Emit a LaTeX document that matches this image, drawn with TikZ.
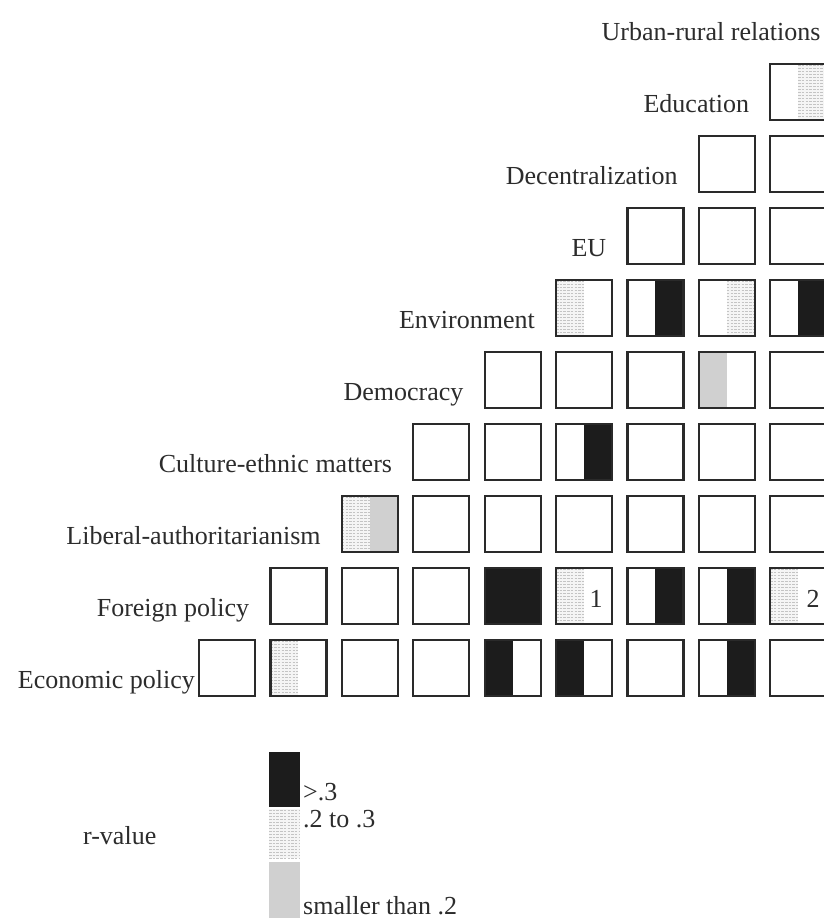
\documentclass[tikz,border=0pt]{standalone}
\usepackage{fontspec}
\setmainfont{Liberation Serif}

\definecolor{ink}{HTML}{2C2C2C}
\definecolor{edge}{HTML}{2A2A2A}
\definecolor{dark}{HTML}{1C1C1C}
\definecolor{pale}{HTML}{D0D0D0}
\definecolor{dotbg}{HTML}{F5F5F5}
\definecolor{dotline}{HTML}{C4C4C4}

% half-cell bands, drawn inside a node through its path picture
\newcommand\bandL[1]{\fill[#1] (path picture bounding box.north west) rectangle (path picture bounding box.south);}
\newcommand\bandR[1]{\fill[#1] (path picture bounding box.north) rectangle (path picture bounding box.south east);}
\newcommand\bandAll[1]{\fill[#1] (path picture bounding box.north west) rectangle (path picture bounding box.south east);}
% rows of fine dashes between two top anchors
\newcommand\dashrows[2]{%
  \foreach \k in {0,...,20}{%
    \draw[dotline, line width=0.9pt, dash pattern=on 2.5pt off 1.2pt]
      ([yshift=-\k*3pt-1.5pt]path picture bounding box.#1) --
      ([yshift=-\k*3pt-1.5pt]path picture bounding box.#2);}}
\newcommand\dotL{\bandL{dotbg}\dashrows{north west}{north}}
\newcommand\dotR{\bandR{dotbg}\dashrows{north}{north east}}
\newcommand\dotAll{\bandAll{dotbg}\dashrows{north west}{north east}}

\tikzset{
  txt/.style={inner sep=0pt, text=ink, font=\fontsize{26}{30}\selectfont},
  cell/.style={draw=edge, line width=2.2pt, minimum width=56pt,
    minimum height=56pt, inner sep=0pt, outer sep=0pt},
  bands/.style={path picture={#1}},
  legblk/.style={inner sep=0pt, outer sep=0pt, minimum width=31pt},
  % filled cells, keyed by row-column
  f-1-2/.style={bands={\dotL}},
  f-1-5/.style={bands={\bandL{dark}}},
  f-1-6/.style={bands={\bandL{dark}}},
  f-1-8/.style={bands={\bandR{dark}}},
  f-2-5/.style={bands={\bandAll{dark}}},
  f-2-6/.style={bands={\dotL}},
  f-2-7/.style={bands={\bandR{dark}}},
  f-2-8/.style={bands={\bandR{dark}}},
  f-2-9/.style={bands={\dotL}},
  f-3-3/.style={bands={\dotL\bandR{pale}}},
  f-4-6/.style={bands={\bandR{dark}}},
  f-5-8/.style={bands={\bandL{pale}}},
  f-6-6/.style={bands={\dotL}},
  f-6-7/.style={bands={\bandR{dark}}},
  f-6-8/.style={bands={\dotR}},
  f-6-9/.style={bands={\bandR{dark}}},
  f-9-9/.style={bands={\dotR}},
}

\begin{document}
\begin{tikzpicture}[x=1pt, y=-1pt]
  \useasboundingbox (0,0) rectangle (823,918);
  \fill[white] (0,0) rectangle (823,918);

  % triangular matrix of cells: row r holds columns r..9
  \foreach \r in {1,...,9}{
    \foreach \c in {\r,...,9}{
      \pgfmathsetmacro\cx{198+(\c-1)*71.4+29}
      \pgfmathsetmacro\cy{639-(\r-1)*72+29}
      \node[cell, f-\r-\c/.try] (c-\r-\c) at (\cx,\cy) {};
    }
  }

  % values printed in cells
  \node[txt, anchor=base] (v1) at (596,607) {1};
  \node[txt, anchor=base] (v2) at (813,607) {2};

  % row labels
  \node[txt, anchor=base east] (l-1) at (195,688) {Economic policy};
  \foreach \r/\t in {2/Foreign policy, 3/Liberal-authoritarianism,
      4/Culture-ethnic matters, 5/Democracy, 6/Environment, 7/EU,
      8/Decentralization, 9/Education, 10/Urban-rural relations}{
    \pgfmathsetmacro\lx{198+(\r-1)*71.4-20}
    \pgfmathsetmacro\ly{639-(\r-1)*72+49}
    \node[txt, anchor=base east] (l-\r) at (\lx,\ly) {\t};
  }

  % legend
  \node[txt, anchor=base west] (key) at (83,844) {r-value};
  \node[legblk, minimum height=55pt, fill=dark] (k-dark) at (284.5,779.5) {};
  \node[legblk, minimum height=49pt, path picture={\dotAll}] (k-dot) at (284.5,833.5) {};
  \node[legblk, minimum height=58pt, fill=pale] (k-pale) at (284.5,891) {};
  \node[txt, anchor=base west] (t-dark) at (303,800) {>.3};
  \node[txt, anchor=base west] (t-dot) at (303,827) {.2 to .3};
  \node[txt, anchor=base west] (t-pale) at (303,914) {smaller than .2};
\end{tikzpicture}
\end{document}
